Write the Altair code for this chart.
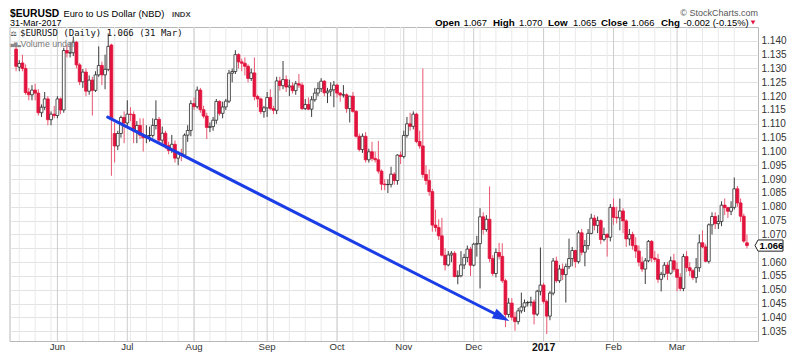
import math
import altair as alt
import pandas as pd

# ---------------- data: EURUSD daily OHLC, 13-May-2016 .. 31-Mar-2017 ----------------
opens = [
    # May 2016
    1.1370, 1.1305, 1.1320, 1.1300, 1.1215, 1.1205, 1.1222, 1.1211, 1.1140, 1.1160, 1.1190, 1.1115, 1.1135,
    # Jun
    1.1130, 1.1190, 1.1150, 1.1365, 1.1356, 1.1357, 1.1395, 1.1313, 1.1252, 1.1287, 1.1218, 1.1258, 1.1221,
    1.1277, 1.1311, 1.1277, 1.1297, 1.1385, 1.1065, 1.1020, 1.1065, 1.1123,
    # Jul
    1.1103, 1.1135, 1.1134, 1.1074, 1.1094, 1.1059, 1.1050, 1.1057, 1.1058, 1.1094, 1.1116, 1.1041, 1.1066,
    1.1021, 1.1004, 1.1026, 1.0976, 1.0993, 1.0987, 1.1059, 1.1076,
    # Aug
    1.1173, 1.1162, 1.1222, 1.1151, 1.1128, 1.1087, 1.1090, 1.1113, 1.1181, 1.1138, 1.1161, 1.1182, 1.1283,
    1.1289, 1.1350, 1.1324, 1.1319, 1.1308, 1.1264, 1.1284, 1.1199, 1.1190, 1.1144,
    # Sep
    1.1158, 1.1195, 1.1155, 1.1149, 1.1255, 1.1238, 1.1260, 1.1233, 1.1237, 1.1220, 1.1245, 1.1240, 1.1155,
    1.1170, 1.1153, 1.1187, 1.1211, 1.1227, 1.1254, 1.1212, 1.1218, 1.1223,
    # Oct
    1.1240, 1.1211, 1.1204, 1.1205, 1.1155, 1.1200, 1.1145, 1.1055, 1.1007, 1.1055, 1.0970, 1.0999, 1.0975,
    1.0970, 1.0929, 1.0882, 1.0880, 1.0881, 1.0918, 1.0895, 1.0987,
    # Nov
    1.0982, 1.1058, 1.1100, 1.1091, 1.1135, 1.1036, 1.1020, 1.0917, 1.0895, 1.0855, 1.0734, 1.0725, 1.0695,
    1.0625, 1.0590, 1.0626, 1.0632, 1.0548, 1.0551, 1.0590, 1.0617, 1.0647,
    # Dec
    1.0589, 1.0665, 1.0667, 1.0764, 1.0718, 1.0755, 1.0613, 1.0559, 1.0635, 1.0621, 1.0533, 1.0411, 1.0452,
    1.0401, 1.0385, 1.0424, 1.0438, 1.0453, 1.0454, 1.0456, 1.0412, 1.0495,
    # Jan 2017
    1.0517, 1.0458, 1.0405, 1.0488, 1.0604, 1.0533, 1.0575, 1.0555, 1.0584, 1.0613, 1.0642, 1.0602, 1.0706,
    1.0636, 1.0660, 1.0704, 1.0759, 1.0733, 1.0750, 1.0682, 1.0700, 1.0690,
    # Feb
    1.0798, 1.0762, 1.0760, 1.0785, 1.0749, 1.0684, 1.0700, 1.0660, 1.0640, 1.0600, 1.0575, 1.0605, 1.0675,
    1.0615, 1.0610, 1.0538, 1.0556, 1.0589, 1.0560, 1.0605,
    # Mar
    1.0574, 1.0545, 1.0505, 1.0620, 1.0580, 1.0569, 1.0544, 1.0580, 1.0670, 1.0655, 1.0603, 1.0735, 1.0765,
    1.0739, 1.0747, 1.0806, 1.0797, 1.0784, 1.0798, 1.0865, 1.0814, 1.0766, 1.0670,
]
highs = [
    1.1380, 1.1330, 1.1350, 1.1315, 1.1230, 1.1240, 1.1245, 1.1225, 1.1170, 1.1215, 1.1200, 1.1145, 1.1165,
    1.1200, 1.1195, 1.1375, 1.1385, 1.1395, 1.1416, 1.1400, 1.1320, 1.1298, 1.1300, 1.1275, 1.1270, 1.1290,
    1.1380, 1.1325, 1.1350, 1.1427, 1.1390, 1.1105, 1.1075, 1.1130, 1.1145,
    1.1185, 1.1160, 1.1145, 1.1110, 1.1120, 1.1120, 1.1095, 1.1090, 1.1120, 1.1185, 1.1125, 1.1090, 1.1075,
    1.1035, 1.1060, 1.1040, 1.1000, 1.1010, 1.1065, 1.1095, 1.1185,
    1.1195, 1.1235, 1.1230, 1.1165, 1.1140, 1.1105, 1.1125, 1.1190, 1.1185, 1.1180, 1.1190, 1.1295, 1.1300,
    1.1366, 1.1355, 1.1335, 1.1340, 1.1315, 1.1300, 1.1340, 1.1205, 1.1195, 1.1165,
    1.1215, 1.1225, 1.1165, 1.1270, 1.1270, 1.1327, 1.1275, 1.1260, 1.1250, 1.1255, 1.1280, 1.1250, 1.1190,
    1.1195, 1.1200, 1.1230, 1.1250, 1.1265, 1.1258, 1.1230, 1.1250, 1.1255,
    1.1245, 1.1215, 1.1240, 1.1210, 1.1200, 1.1215, 1.1150, 1.1065, 1.1065, 1.1070, 1.1010, 1.1035, 1.1000,
    1.1038, 1.0935, 1.0900, 1.0900, 1.0945, 1.0925, 1.0990, 1.1000,
    1.1075, 1.1125, 1.1140, 1.1145, 1.1140, 1.1075, 1.1300, 1.0950, 1.0935, 1.0865, 1.0790, 1.0755, 1.0760,
    1.0650, 1.0640, 1.0640, 1.0640, 1.0570, 1.0640, 1.0630, 1.0660, 1.0655,
    1.0670, 1.0695, 1.0795, 1.0780, 1.0770, 1.0874, 1.0625, 1.0650, 1.0670, 1.0668, 1.0540, 1.0470, 1.0470,
    1.0420, 1.0435, 1.0490, 1.0465, 1.0460, 1.0475, 1.0465, 1.0500, 1.0653,
    1.0525, 1.0465, 1.0495, 1.0615, 1.0620, 1.0590, 1.0595, 1.0595, 1.0685, 1.0655, 1.0645, 1.0715, 1.0720,
    1.0680, 1.0720, 1.0775, 1.0770, 1.0765, 1.0755, 1.0725, 1.0705, 1.0810,
    1.0830, 1.0800, 1.0830, 1.0795, 1.0755, 1.0720, 1.0710, 1.0690, 1.0660, 1.0620, 1.0615, 1.0680, 1.0680,
    1.0640, 1.0630, 1.0565, 1.0600, 1.0600, 1.0620, 1.0630,
    1.0600, 1.0560, 1.0630, 1.0640, 1.0600, 1.0575, 1.0615, 1.0700, 1.0715, 1.0665, 1.0740, 1.0780, 1.0780,
    1.0770, 1.0820, 1.0830, 1.0800, 1.0820, 1.0906, 1.0875, 1.0830, 1.0775, 1.0700,
]
lows = [
    1.1290, 1.1290, 1.1290, 1.1205, 1.1185, 1.1185, 1.1185, 1.1130, 1.1125, 1.1150, 1.1095, 1.1095, 1.1120,
    1.1120, 1.1135, 1.1140, 1.1340, 1.1340, 1.1345, 1.1300, 1.1240, 1.1230, 1.1200, 1.1205, 1.1130, 1.1215,
    1.1270, 1.1240, 1.1225, 1.1290, 1.0912, 1.0960, 1.1005, 1.1050, 1.1030,
    1.1090, 1.1110, 1.1030, 1.1030, 1.1045, 1.1000, 1.1030, 1.1035, 1.1050, 1.1080, 1.1030, 1.1030, 1.1010,
    1.0990, 1.0995, 1.0960, 1.0950, 1.0965, 1.0980, 1.1035, 1.1055,
    1.1150, 1.1155, 1.1140, 1.1120, 1.1045, 1.1070, 1.1075, 1.1100, 1.1130, 1.1120, 1.1150, 1.1175, 1.1250,
    1.1280, 1.1300, 1.1290, 1.1275, 1.1250, 1.1255, 1.1185, 1.1160, 1.1135, 1.1122,
    1.1125, 1.1150, 1.1135, 1.1135, 1.1220, 1.1225, 1.1215, 1.1200, 1.1210, 1.1205, 1.1230, 1.1150, 1.1150,
    1.1150, 1.1125, 1.1180, 1.1200, 1.1215, 1.1200, 1.1175, 1.1200, 1.1160,
    1.1195, 1.1180, 1.1195, 1.1140, 1.1105, 1.1140, 1.1050, 1.1000, 1.0995, 1.0960, 1.0960, 1.0965, 1.0960,
    1.0920, 1.0860, 1.0860, 1.0850, 1.0870, 1.0880, 1.0880, 1.0955,
    1.0975, 1.1050, 1.1075, 1.1080, 1.1030, 1.1010, 1.0905, 1.0880, 1.0840, 1.0710, 1.0710, 1.0680, 1.0620,
    1.0570, 1.0585, 1.0600, 1.0545, 1.0520, 1.0545, 1.0575, 1.0600, 1.0550,
    1.0585, 1.0620, 1.0505, 1.0700, 1.0710, 1.0600, 1.0550, 1.0545, 1.0610, 1.0525, 1.0365, 1.0400, 1.0390,
    1.0352, 1.0375, 1.0415, 1.0420, 1.0440, 1.0440, 1.0375, 1.0405, 1.0480,
    1.0450, 1.0340, 1.0390, 1.0480, 1.0525, 1.0525, 1.0535, 1.0454, 1.0575, 1.0585, 1.0580, 1.0595, 1.0625,
    1.0585, 1.0645, 1.0700, 1.0715, 1.0705, 1.0665, 1.0675, 1.0620, 1.0675,
    1.0735, 1.0740, 1.0715, 1.0705, 1.0655, 1.0660, 1.0645, 1.0615, 1.0585, 1.0565, 1.0521, 1.0600, 1.0600,
    1.0600, 1.0525, 1.0494, 1.0545, 1.0535, 1.0555, 1.0565,
    1.0495, 1.0495, 1.0495, 1.0565, 1.0550, 1.0535, 1.0525, 1.0565, 1.0650, 1.0600, 1.0595, 1.0700, 1.0720,
    1.0720, 1.0730, 1.0770, 1.0760, 1.0770, 1.0790, 1.0800, 1.0745, 1.0670, 1.0650,
]
closes = [
    1.1308, 1.1318, 1.1300, 1.1213, 1.1205, 1.1222, 1.1211, 1.1140, 1.1160, 1.1190, 1.1115, 1.1135, 1.1130,
    1.1190, 1.1150, 1.1365, 1.1356, 1.1357, 1.1395, 1.1313, 1.1252, 1.1287, 1.1218, 1.1258, 1.1221, 1.1277,
    1.1311, 1.1277, 1.1297, 1.1380, 1.1115, 1.1020, 1.1065, 1.1123, 1.1103,
    1.1135, 1.1134, 1.1074, 1.1094, 1.1059, 1.1050, 1.1057, 1.1058, 1.1094, 1.1116, 1.1041, 1.1066, 1.1021,
    1.1004, 1.1026, 1.0976, 1.0993, 1.0987, 1.1059, 1.1076, 1.1173,
    1.1162, 1.1222, 1.1151, 1.1128, 1.1087, 1.1090, 1.1113, 1.1181, 1.1138, 1.1161, 1.1182, 1.1283, 1.1289,
    1.1350, 1.1324, 1.1319, 1.1308, 1.1264, 1.1284, 1.1199, 1.1190, 1.1144, 1.1158,
    1.1195, 1.1155, 1.1149, 1.1255, 1.1238, 1.1260, 1.1233, 1.1237, 1.1220, 1.1245, 1.1240, 1.1155, 1.1170,
    1.1153, 1.1187, 1.1211, 1.1227, 1.1254, 1.1212, 1.1218, 1.1223, 1.1240,
    1.1211, 1.1204, 1.1205, 1.1155, 1.1200, 1.1145, 1.1055, 1.1007, 1.1055, 1.0970, 1.0999, 1.0975, 1.0970,
    1.0929, 1.0882, 1.0880, 1.0881, 1.0918, 1.0895, 1.0987, 1.0982,
    1.1058, 1.1100, 1.1091, 1.1135, 1.1036, 1.1020, 1.0917, 1.0895, 1.0855, 1.0734, 1.0725, 1.0695, 1.0625,
    1.0590, 1.0626, 1.0632, 1.0548, 1.0551, 1.0590, 1.0617, 1.0647, 1.0589,
    1.0665, 1.0667, 1.0764, 1.0718, 1.0755, 1.0613, 1.0559, 1.0635, 1.0621, 1.0533, 1.0411, 1.0452, 1.0401,
    1.0385, 1.0424, 1.0438, 1.0453, 1.0454, 1.0456, 1.0412, 1.0495, 1.0517,
    1.0458, 1.0405, 1.0488, 1.0604, 1.0533, 1.0575, 1.0555, 1.0584, 1.0613, 1.0642, 1.0602, 1.0706, 1.0636,
    1.0660, 1.0704, 1.0759, 1.0733, 1.0750, 1.0682, 1.0700, 1.0690, 1.0798,
    1.0762, 1.0760, 1.0785, 1.0749, 1.0684, 1.0700, 1.0660, 1.0640, 1.0600, 1.0575, 1.0605, 1.0675, 1.0615,
    1.0610, 1.0538, 1.0556, 1.0589, 1.0560, 1.0605, 1.0574,
    1.0545, 1.0505, 1.0620, 1.0580, 1.0569, 1.0544, 1.0580, 1.0670, 1.0655, 1.0603, 1.0735, 1.0765, 1.0739,
    1.0747, 1.0806, 1.0797, 1.0784, 1.0798, 1.0865, 1.0814, 1.0766, 1.0676, 1.0660,
]
first_date = "2016-05-13"
month_labels = ["Jun", "Jul", "Aug", "Sep", "Oct", "Nov", "Dec", "2017", "Feb", "Mar"]
price_ticks = [1.035, 1.040, 1.045, 1.050, 1.055, 1.060, 1.065, 1.070, 1.075, 1.080, 1.085,
               1.090, 1.095, 1.100, 1.105, 1.110, 1.115, 1.120, 1.125, 1.130, 1.135, 1.140]
# hand-drawn trend arrow (trading-day position, price)
arrow_start = (28.83, 1.1124)
arrow_tip = (155.2, 1.0387)

# ---------------- layout ----------------
PX0, PY0 = 9.5, 27.0          # page position of the plot area's top-left
W, H = 748.5, 314.0
X_DOMAIN = [-0.5, 231.9]
Y_DOMAIN = [1.0315, 1.1450]
SANS = "Liberation Sans"
MONO = "DejaVu Sans Mono"
RED = "#e2133d"
BLUE = "#1b3de6"

n = len(closes)
dates = pd.bdate_range(first_date, periods=n)
pos = list(range(n))
df = pd.DataFrame({"pos": pos, "date": dates, "o": opens, "h": highs, "l": lows, "c": closes})

month_pos = [p for p in range(1, n) if dates[p].month != dates[p - 1].month]
mdf = pd.DataFrame({"pos": month_pos, "label": month_labels})
mdf["bold"] = mdf["label"].str.isdigit()
week_pos = [p for p in pos if dates[p].dayofweek == 0]

hidden = f"{round(closes[-1] / 0.005) * 0.005:.3f}"
yaxis = alt.Axis(orient="right", values=price_ticks, format=".3f", title=None, ticks=False,
                 domain=False, grid=True, gridColor="#e3e3e3", gridWidth=1,
                 labelFont=SANS, labelFontSize=10, labelColor="#333333", labelPadding=3,
                 labelExpr=f"datum.label == '{hidden}' ? '' : datum.label")

xscale = alt.Scale(domain=X_DOMAIN, nice=False, zero=False)
yscale = alt.Scale(domain=Y_DOMAIN, nice=False, zero=False)
X = lambda f: alt.X(f, type="quantitative", scale=xscale, axis=None)
Y = lambda f: alt.Y(f, type="quantitative", scale=yscale, axis=yaxis)

down = alt.datum.c < alt.datum.o

week_grid = alt.Chart(pd.DataFrame({"pos": week_pos})).mark_rule(color="#e9e9e9", strokeWidth=1).encode(x=X("pos"))
month_grid = alt.Chart(mdf).mark_rule(color="#cdcdcd", strokeWidth=1).encode(x=X("pos"))

wicks = alt.Chart(df).mark_rule(strokeWidth=1).encode(
    x=X("pos"), y=Y("l"), y2="h",
    color=alt.when(down).then(alt.value("#e8566f")).otherwise(alt.value("#3c3c3c")),
)
bodies = alt.Chart(df).mark_bar(size=2.8, strokeWidth=0.8, orient="vertical").encode(
    x=X("pos"), y=Y("o"), y2="c",
    fill=alt.when(down).then(alt.value(RED)).otherwise(alt.value("#ffffff")),
    stroke=alt.when(down).then(alt.value(RED)).otherwise(alt.value("#2a2a2a")),
)

# arrow geometry
kx = W / (X_DOMAIN[1] - X_DOMAIN[0])
ky = H / (Y_DOMAIN[1] - Y_DOMAIN[0])
dxp = (arrow_tip[0] - arrow_start[0]) * kx
dyp = (arrow_start[1] - arrow_tip[1]) * ky
L = math.hypot(dxp, dyp)
ux, uy = dxp / L, dyp / L
HEAD = 17.0
head_c = (arrow_tip[0] - HEAD / 2 * ux / kx, arrow_tip[1] + HEAD / 2 * uy / ky)
angle = math.degrees(math.atan2(dyp, dxp))

arrow_line = alt.Chart(pd.DataFrame({"pos": [arrow_start[0], head_c[0]],
                                     "price": [arrow_start[1], head_c[1]]})).mark_line(
    color=BLUE, strokeWidth=3, strokeCap="round").encode(x=X("pos"), y=Y("price"))
arrow_head = alt.Chart(pd.DataFrame({"pos": [head_c[0]], "price": [head_c[1]]})).mark_point(
    shape="M1,0 L-1,-0.62 L-1,0.62 Z", size=HEAD * HEAD, filled=True, color=BLUE, opacity=1,
    angle=angle, strokeWidth=0).encode(x=X("pos"), y=Y("price"))


def txt(s, x, y, size=10, weight="normal", color="#000000", align="left", font=SANS):
    return alt.Chart(pd.DataFrame({"t": [s]})).mark_text(
        align=align, baseline="alphabetic", fontSize=size, fontWeight=weight, color=color, font=font
    ).encode(x=alt.value(x - PX0), y=alt.value(y - PY0), text="t:N")


last = dates[-1]
chg = closes[-1] - closes[-2]
pct = chg / closes[-2] * 100
legend_line = f"$EURUSD (Daily) {closes[-1]:.3f} ({last.day} {last.strftime('%b')})"

R1, R2 = 17.3, 26.0   # header baselines (page px)
header = [
    txt("$EURUSD", 10, R1, 10.3, "bold"),
    txt("Euro to US Dollar (NBD)", 63.5, R1, 9.3),
    txt("INDX", 172, R1, 7.8, "bold", "#444444"),
    txt("© StockCharts.com", 758, R1 - 1, 9.0, "normal", "#555555", "right"),
    txt(last.strftime("%d-%b-%Y"), 10, R2, 9.0),
    txt("Open", 435, R2, 9.8, "bold"),
    txt(f"{opens[-1]:.3f}", 463.5, R2, 9.4),
    txt("High", 493, R2, 9.8, "bold"),
    txt(f"{highs[-1]:.3f}", 519, R2, 9.4),
    txt("Low", 548, R2, 9.8, "bold"),
    txt(f"{lows[-1]:.3f}", 573, R2, 9.4),
    txt("Close", 601, R2, 9.8, "bold"),
    txt(f"{closes[-1]:.3f}", 631, R2, 9.4),
    txt("Chg", 661, R2, 9.8, "bold"),
    txt(f"{chg:.3f} ({pct:.2f}%)", 683.5, R2, 9.4),
    txt(legend_line, 20, 35.6, 9, "normal", "#111111", "left", MONO),
    txt("Volume undef", 20.5, 46.6, 8.8, "normal", "#777777"),
    txt("▅▇▃", 10.5, 46.2, 4.5, "normal", "#888888", "left", "DejaVu Sans"),
    txt("⚖", 10.5, 35.6, 7, "normal", "#222222", "left", "DejaVu Sans"),
]
chg_tri = alt.Chart(pd.DataFrame({"t": [0]})).mark_point(
    shape="triangle-down", size=22, filled=True, color=RED, opacity=1).encode(
    x=alt.value(753 - PX0), y=alt.value(R2 - 3.5 - PY0))

mlab = alt.Chart(mdf).transform_filter("!datum.bold").mark_text(
    font=SANS, fontSize=9.6, color="#333333", baseline="alphabetic").encode(
    x=X("pos"), y=alt.value(350.3 - PY0), text="label:N")
mlab_b = alt.Chart(mdf).transform_filter("datum.bold").mark_text(
    font=SANS, fontSize=10.5, fontWeight="bold", color="#111111", baseline="alphabetic").encode(
    x=X("pos"), y=alt.value(350.8 - PY0), text="label:N")

last_df = pd.DataFrame({"price": [closes[-1]], "t": [f"{closes[-1]:.3f}"]})
box = alt.Chart(last_df).mark_point(
    shape="M-1,0 L-0.78,-0.4 L1,-0.4 L1,0.4 L-0.78,0.4 Z", size=784, filled=True,
    fill="#ffffff", stroke="#222222", strokeWidth=1, opacity=1).encode(
    x=alt.value(769 - PX0), y=Y("price"))
box_t = alt.Chart(last_df).mark_text(font=SANS, fontSize=9.5, fontWeight="bold", color="#000000",
                                     align="center", baseline="middle").encode(
    x=alt.value(771.5 - PX0), y=Y("price"), text="t:N")

chart = alt.layer(
    week_grid, month_grid, wicks, bodies, arrow_line, arrow_head,
    *header, chg_tri, mlab, mlab_b, box, box_t,
).properties(
    width=W, height=H,
    autosize=alt.AutoSizeParams(type="none"),
    padding={"left": PX0 - 8, "top": PY0 - 8, "right": 792 - (PX0 + W), "bottom": 352 - (PY0 + H)},
    background="#ffffff",
).configure_view(stroke="#b8b8b8", strokeWidth=1)

chart.save("out.html", embed_options={"renderer": "svg", "actions": False})
